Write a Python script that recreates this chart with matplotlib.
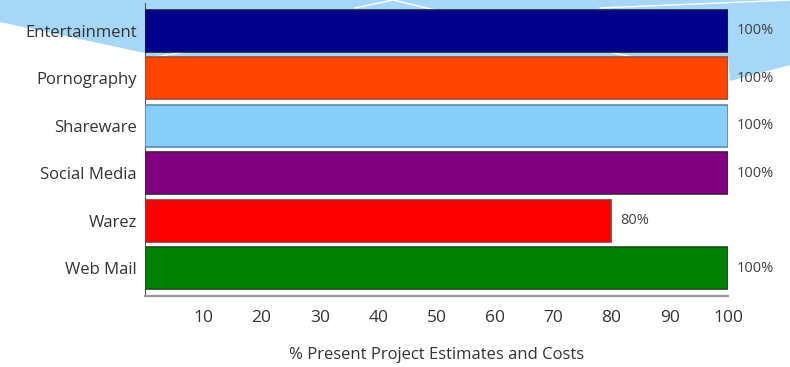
import matplotlib
matplotlib.use("Agg")
import matplotlib.pyplot as plt
from matplotlib.patches import Polygon
from matplotlib.lines import Line2D

plt.rcParams["font.family"] = ["Open Sans", "DejaVu Sans"]

categories = ["Entertainment", "Pornography", "Shareware", "Social Media", "Warez", "Web Mail"]
values = [100, 100, 100, 100, 80, 100]
colors = ["#00008b", "#ff4500", "#87cefa", "#800080", "#ff0000", "#008000"]
edges = ["#1a1a50", "#a8472a", "#5a8aa8", "#4a1a4a", "#a82a2a", "#1d4d1d"]
xticks = [10, 20, 30, 40, 50, 60, 70, 80, 90, 100]
xlabel = "% Present Project Estimates and Costs"

W, H = 790, 367
fig = plt.figure(figsize=(W / 100, H / 100), dpi=100)
fig.patch.set_facecolor("white")


def px(x, y):
    # pixel coords (origin top-left) -> figure fraction
    return (x / W, 1 - y / H)


# light blue slide decoration at the top, kept behind the axes
shape = [(0, 0), (790, 0), (790, 65), (730, 81), (728, 59), (145, 59), (145, 53), (0, 22)]
fig.patches.append(Polygon([px(*p) for p in shape], closed=True, transform=fig.transFigure,
                           facecolor="#a6d7f6", edgecolor="none", zorder=-2))
for seg in [[(355, 8), (393, 0), (435, 10)], [(600, 50), (633, 57)], [(150, 58), (195, 50)],
            [(600, 8), (790, 0)]]:
    xs, ys = zip(*[px(*p) for p in seg])
    fig.lines.append(Line2D(xs, ys, transform=fig.transFigure, color="white", lw=1, zorder=-1))

ax = fig.add_axes([145 / W, 71 / H, 583 / W, 293 / H])
ax.set_facecolor("none")

ypos = list(range(len(categories)))
ax.barh(ypos, values, height=0.89, color=colors, edgecolor=edges, linewidth=1.2, zorder=3)

for y, v in zip(ypos, values):
    ax.text(v + 1.5, y, f"{v}%", va="center", ha="left", fontsize=10.5, color="#404040")

ax.set_xlim(0, 100)
ax.set_ylim(len(categories) - 0.41, -0.59)
ax.set_yticks(ypos)
ax.set_yticklabels(categories, fontsize=12, color="#333333")
ax.set_xticks(xticks)
ax.set_xticklabels([str(t) for t in xticks], fontsize=12.5, color="#333333")
ax.tick_params(axis="both", length=0)
ax.tick_params(axis="x", pad=10)
ax.tick_params(axis="y", pad=6)
ax.set_xlabel(xlabel, fontsize=12, color="#333333", labelpad=15)

for side in ["top", "right"]:
    ax.spines[side].set_visible(False)
ax.spines["left"].set_color("#555555")
ax.spines["left"].set_linewidth(0.8)
ax.spines["bottom"].set_color("#9a9a9a")
ax.spines["bottom"].set_linewidth(1.6)

fig.savefig("out.png", dpi=100)
